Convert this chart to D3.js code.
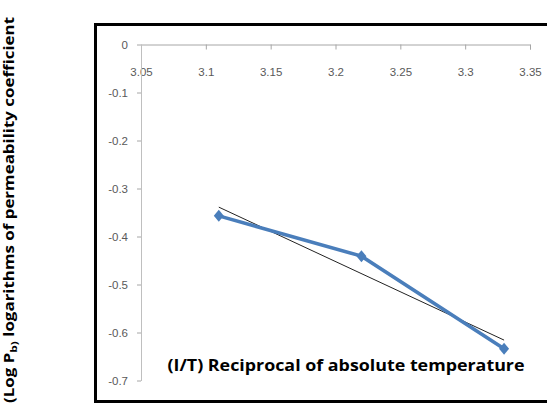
<!DOCTYPE html>
<html><head><meta charset="utf-8">
<script src="https://cdn.jsdelivr.net/npm/d3@7"></script>
<style>html,body{margin:0;padding:0;background:#fff;}svg{display:block;}</style>
</head><body>
<svg id="c" width="547" height="417"></svg>
<script>
const xValues = [3.11, 3.22, 3.33];
const yValues = [-0.357, -0.441, -0.634];
const xTicks = [3.05, 3.1, 3.15, 3.2, 3.25, 3.3, 3.35];
const yTicks = [0, -0.1, -0.2, -0.3, -0.4, -0.5, -0.6, -0.7];
const xTitle = "(I/T) Reciprocal of absolute temperature";
const yTitleA = "(Log P";
const yTitleSub = "b)";
const yTitleB = " logarithms of permeability coefficient";

const svg = d3.select("#c");
const x = d3.scaleLinear().domain([3.05, 3.35]).range([141, 530]);
const y = d3.scaleLinear().domain([0, -0.7]).range([44.5, 380.5]);

// frame
svg.append("rect").attr("x", 95.5).attr("y", 24.5).attr("width", 460).attr("height", 377)
  .attr("fill", "none").attr("stroke", "#000").attr("stroke-width", 3);

const tickFont = "'Liberation Sans Narrow','Liberation Sans',sans-serif";
const fmt = d => String(d);
// x axis at y=0
const xa = svg.append("g").attr("transform", `translate(0,${y(0)})`)
  .call(d3.axisBottom(x).tickValues(xTicks).tickSize(5).tickPadding(18).tickFormat(fmt));
xa.select(".domain").attr("stroke", "#a6a6a6");
xa.selectAll(".tick line").attr("stroke", "#a6a6a6");
xa.selectAll("text").attr("fill", "#595959").style("font-family", tickFont).style("font-size", "11.5px");

const ya = svg.append("g").attr("transform", `translate(${x(3.05)},0)`)
  .call(d3.axisLeft(y).tickValues(yTicks).tickSize(4).tickSizeOuter(0).tickPadding(9).tickFormat(fmt));
ya.select(".domain").attr("stroke", "#bfbfbf");
ya.selectAll(".tick line").attr("stroke", "#a6a6a6");
ya.selectAll("text").attr("fill", "#595959").style("font-family", tickFont).style("font-size", "11.5px");

// trendline (least squares)
const mx = d3.mean(xValues), my = d3.mean(yValues);
const slope = d3.sum(xValues, (v, i) => (v - mx) * (yValues[i] - my)) / d3.sum(xValues, v => (v - mx) ** 2);
const icpt = my - slope * mx;
const tx = d3.extent(xValues);
svg.append("line")
  .attr("x1", x(tx[0])).attr("y1", y(icpt + slope * tx[0]))
  .attr("x2", x(tx[1])).attr("y2", y(icpt + slope * tx[1]))
  .attr("stroke", "#222").attr("stroke-width", 1);

const pts = xValues.map((v, i) => [v, yValues[i]]);
svg.append("path").datum(pts)
  .attr("d", d3.line().x(d => x(d[0])).y(d => y(d[1])))
  .attr("fill", "none").attr("stroke", "#4a7ebb").attr("stroke-width", 3.5);
svg.selectAll(".m").data(pts).join("path")
  .attr("transform", d => `translate(${x(d[0])},${y(d[1])})`)
  .attr("d", "M0,-6L5,0L0,6L-5,0Z")
  .attr("fill", "#4a7ebb");

// x title
svg.append("text").attr("x", 346).attr("y", 371).attr("text-anchor", "middle")
  .style("font-family", "'Open Sans','Noto Sans',sans-serif").style("font-weight", "bold").style("font-size", "16.5px")
  .attr("fill", "#000").text(xTitle)
  .attr("textLength", 357).attr("lengthAdjust", "spacingAndGlyphs");

// y title
const yt = svg.append("text").attr("transform", "translate(13.5,210) rotate(-90)").attr("text-anchor", "middle")
  .style("font-family", "'Open Sans','Noto Sans',sans-serif").style("font-weight", "bold").style("font-size", "13.5px")
  .attr("fill", "#000").attr("textLength", 386).attr("lengthAdjust", "spacingAndGlyphs");
yt.append("tspan").text(yTitleA);
yt.append("tspan").attr("dy", 3).style("font-size", "9.5px").text(yTitleSub);
yt.append("tspan").attr("dy", -3).text(yTitleB);
</script>
</body></html>
